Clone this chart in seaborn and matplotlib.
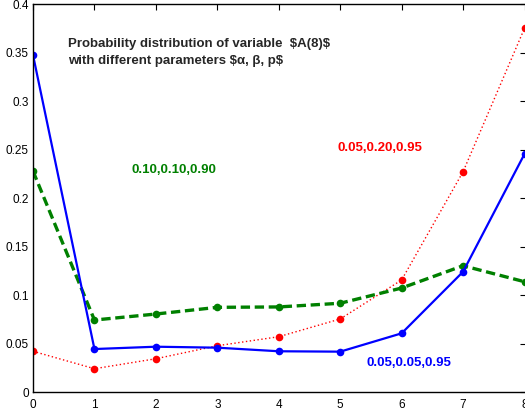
import matplotlib
matplotlib.use("Agg")
import matplotlib.pyplot as plt
import seaborn as sns
import pandas as pd

sns.set_style("white")
plt.rcParams['font.family'] = ['Liberation Sans', 'DejaVu Sans']

x = [0, 1, 2, 3, 4, 5, 6, 7, 8]
blue_vals = [0.3477, 0.0446, 0.0470, 0.0460, 0.0423, 0.0419, 0.0608, 0.1243, 0.2457]
green_vals = [0.2280, 0.0745, 0.0807, 0.0876, 0.0880, 0.0918, 0.1075, 0.1305, 0.1140]
red_vals = [0.0423, 0.0243, 0.0346, 0.0480, 0.0573, 0.0756, 0.1158, 0.2274, 0.3753]

label_blue = "0.05,0.05,0.95"
label_green = "0.10,0.10,0.90"
label_red = "0.05,0.20,0.95"
title_lines = ["Probability distribution of variable  $A(8)$",
               "with different parameters $\u03b1, \u03b2, p$"]
yticks = [0, 0.05, 0.1, 0.15, 0.2, 0.25, 0.3, 0.35, 0.4]
ytick_labels = ["0", "0.05", "0.1", "0.15", "0.2", "0.25", "0.3", "0.35", "0.4"]

W, H = 525, 412
fig = plt.figure(figsize=(W / 100, H / 100), dpi=100)
left, right, bottom, top = 33, 525.5, 412 - 392.3, 412 - 4.3
ax = fig.add_axes([left / W, bottom / H, (right - left) / W, (top - bottom) / H])

df_red = pd.DataFrame({"x": x, "y": red_vals})
df_green = pd.DataFrame({"x": x, "y": green_vals})
df_blue = pd.DataFrame({"x": x, "y": blue_vals})

sns.lineplot(data=df_red, x="x", y="y", ax=ax, color="#ff0000", linewidth=1.0,
             linestyle=(0, (1, 1.8)), marker="o", markersize=5.5, markeredgewidth=0)
sns.lineplot(data=df_green, x="x", y="y", ax=ax, color="#008000", linewidth=2.4,
             linestyle=(0, (2.8, 1.4)), marker="o", markersize=5.5, markeredgewidth=0)
sns.lineplot(data=df_blue, x="x", y="y", ax=ax, color="#0000ff", linewidth=1.6,
             linestyle="-", marker="o", markersize=5.5, markeredgewidth=0)

ax.set_xlim(0, 8.016)
ax.set_ylim(0, 0.4)
ax.set_xticks(x)
ax.set_xticklabels([str(v) for v in x])
ax.set_yticks(yticks)
ax.set_yticklabels(ytick_labels)
ax.set_xlabel("")
ax.set_ylabel("")
ax.tick_params(direction="in", top=True, right=True, length=4, width=0.8,
               labelsize=8.5, colors="black")
ax.tick_params(axis="x", pad=5)
ax.tick_params(axis="y", pad=3)
for s in ax.spines.values():
    s.set_color("black")
    s.set_linewidth(1.0)
    s.set_visible(True)

fs = 9.5
ax.text(0.57, 0.359, title_lines[0], fontsize=fs, fontweight="bold",
        ha="left", va="center", parse_math=False)
ax.text(0.57, 0.3416, title_lines[1], fontsize=fs, fontweight="bold",
        ha="left", va="center", parse_math=False)
ax.text(1.61, 0.229, label_green, color="#008000", fontsize=fs, fontweight="bold",
        ha="left", va="center")
ax.text(4.95, 0.252, label_red, color="#ff0000", fontsize=fs, fontweight="bold",
        ha="left", va="center")
ax.text(5.42, 0.0302, label_blue, color="#0000ff", fontsize=fs, fontweight="bold",
        ha="left", va="center")

fig.savefig("out.png", dpi=100)
